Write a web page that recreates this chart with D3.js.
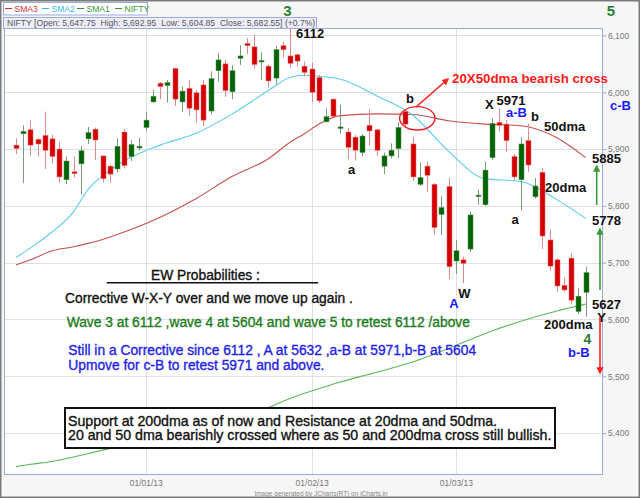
<!DOCTYPE html>
<html>
<head>
<meta charset="utf-8">
<script src="https://cdn.jsdelivr.net/npm/d3@7"></script>
<style>
  body { margin: 0; background: #fff; }
  svg { display: block; font-family: "Liberation Sans", Arial, sans-serif; }
</style>
</head>
<body>
<svg id="chart" width="640" height="498"></svg>
<script>
// NIFTY daily candles, 05 Dec 2012 - 28 Mar 2013
const dates = [
  "2012-12-05","2012-12-06","2012-12-07","2012-12-10","2012-12-11","2012-12-12","2012-12-13","2012-12-14",
  "2012-12-17","2012-12-18","2012-12-19","2012-12-20","2012-12-21","2012-12-24","2012-12-26","2012-12-27",
  "2012-12-28","2012-12-31","2013-01-01","2013-01-02","2013-01-03","2013-01-04","2013-01-07","2013-01-08",
  "2013-01-09","2013-01-10","2013-01-11","2013-01-14","2013-01-15","2013-01-16","2013-01-17","2013-01-18",
  "2013-01-21","2013-01-22","2013-01-23","2013-01-24","2013-01-25","2013-01-28","2013-01-29","2013-01-30",
  "2013-01-31","2013-02-01","2013-02-04","2013-02-05","2013-02-06","2013-02-07","2013-02-08","2013-02-11",
  "2013-02-12","2013-02-13","2013-02-14","2013-02-15","2013-02-18","2013-02-19","2013-02-20","2013-02-21",
  "2013-02-22","2013-02-25","2013-02-26","2013-02-27","2013-02-28","2013-03-01","2013-03-04","2013-03-05",
  "2013-03-06","2013-03-07","2013-03-08","2013-03-11","2013-03-12","2013-03-13","2013-03-14","2013-03-15",
  "2013-03-18","2013-03-19","2013-03-20","2013-03-21","2013-03-22","2013-03-25","2013-03-26","2013-03-28"
];
const openVals = [
  5907,5927,5934,5917,5924,5918,5900,5846,5860,5874,5918,5935,5888,5870,5865,5930,
  5887,5902,5938,5983,6016,6012,6042,5983,6007,5999,6013,5967,6038,6050,6001,6060,
  6086,6080,6054,6046,6025,6082,6064,6066,6046,6041,6026,5948,5988,5937,5930,5921,
  5894,5942,5934,5870,5888,5901,5966,5909,5838,5870,5838,5785,5834,5703,5705,5724,
  5817,5802,5885,5947,5944,5887,5846,5915,5816,5859,5740,5705,5660,5708,5614,5647.75
];
const highVals = [
  5919,5942,5951,5920,5966,5925,5913,5887,5887,5905,5939,5938,5888,5872,5919,5935,
  5916,5920,5966,6005,6018,6022,6043,6010,6022,6004,6022,6037,6069,6057,6048,6083,
  6095,6102,6070,6049,6082,6089,6112,6069,6054,6052,6031,5972,5989,5978,5937,5925,
  5927,5970,5935,5894,5910,5947,5970,5921,5876,5878,5840,5817,5850,5740,5711,5790,
  5829,5878,5954,5971,5951,5891,5921,5945,5849,5866,5758,5708,5674,5717,5656,5692.95
];
const lowVals = [
  5891,5840,5888,5887,5865,5875,5841,5838,5850,5820,5909,5881,5841,5841,5859,5866,
  5879,5898,5932,5982,5988,5982,5976,5965,5959,5947,5941,5961,6019,5992,5988,6048,
  6067,6042,6022,6008,6014,6061,6043,6045,6028,5983,5981,5947,5956,5927,5882,5880,
  5887,5906,5888,5856,5884,5884,5938,5844,5835,5825,5749,5749,5671,5680,5664,5719,
  5802,5800,5881,5931,5895,5844,5792,5860,5813,5724,5686,5649,5648,5626,5610,5604.85
];
const closeVals = [
  5901,5931,5907,5909,5898,5887,5851,5879,5857,5897,5929,5916,5848,5856,5905,5871,
  5908,5905,5951,5993,6010,6017,5988,6002,5972,5969,5951,6024,6057,6003,6038,6064,
  6082,6049,6056,6020,6075,6075,6051,6055,6035,6000,5985,5957,5958,5939,5903,5898,
  5923,5932,5898,5888,5898,5938,5944,5851,5850,5854,5762,5797,5693,5721,5699,5784,
  5819,5863,5945,5942,5915,5851,5909,5872,5835,5747,5694,5659,5652,5634,5641,5682.55
];

// moving averages, read at sample sessions
const maDates = [
  "2012-12-05","2012-12-07","2012-12-12","2012-12-17","2012-12-19","2012-12-21","2012-12-27","2013-01-03",
  "2013-01-10","2013-01-17","2013-01-24","2013-01-29","2013-01-31","2013-02-04","2013-02-07","2013-02-14",
  "2013-02-21","2013-02-28","2013-03-07","2013-03-14","2013-03-21","2013-03-28"
];
const sma20 = [5709,5726,5754,5790,5829,5853,5879,5907,5928,5962,6003,6026,6030,6028,6023,5994,5960,5896,5848,5843,5811,5778];
const sma50 = [5696,5705,5721,5728,5734,5741,5754,5780,5813,5852,5883,5912,5927,5944,5959,5962,5961,5950,5944,5941,5920,5885];
const sma200 = [5341,5345,5350,5358,5364,5370,5378,5391,5406,5425,5445,5461,5470,5478,5490,5507,5525,5549,5575,5597,5615,5627];

const yTicks = [5400, 5500, 5600, 5700, 5800, 5900, 6000, 6100];
const monthTicks = ["2013-01-01", "2013-02-01", "2013-03-01"];

const width = 640, height = 498;
const plot = { left: 4, right: 603, top: 28, bottom: 475 };

const svg = d3.select("#chart");

const x = d3.scaleLinear()
  .domain([-1.66, 81.4])
  .range([plot.left, plot.right]);
const xAt = d => x(dates.indexOf(d));

const y = d3.scaleLinear()
  .domain([5326.2, 6113.2])
  .range([plot.bottom, plot.top]);

// background + frame
svg.append("rect")
  .attr("width", width).attr("height", height)
  .attr("fill", "#f6f6f6");
svg.append("rect")
  .attr("x", plot.left).attr("y", plot.top)
  .attr("width", plot.right - plot.left).attr("height", plot.bottom - plot.top)
  .attr("fill", "#fff");

// grid
svg.append("g")
  .selectAll("line")
  .data(yTicks)
  .join("line")
    .attr("x1", plot.left).attr("x2", plot.right)
    .attr("y1", d => Math.round(y(d)) + 0.5).attr("y2", d => Math.round(y(d)) + 0.5)
    .attr("stroke", "#e0e0e0");
svg.append("g")
  .selectAll("line")
  .data(monthTicks)
  .join("line")
    .attr("x1", d => Math.round(xAt(d)) + 0.5).attr("x2", d => Math.round(xAt(d)) + 0.5)
    .attr("y1", plot.top).attr("y2", plot.bottom)
    .attr("stroke", "#e0e0e0");

// axes
const fmtDate = d3.timeFormat("%d/%m/%y");
const parse = d3.timeParse("%Y-%m-%d");

const yAxis = svg.append("g")
  .attr("transform", `translate(${plot.right},0)`)
  .call(d3.axisRight(y).tickValues(yTicks).tickFormat(d3.format(",")).tickSize(3).tickPadding(2));
yAxis.select(".domain").remove();
yAxis.selectAll("line").attr("stroke", "#aaa");
yAxis.selectAll("text").attr("fill", "#777").attr("font-size", 8.5).attr("font-family", "Liberation Sans, Arial");

const xAxis = svg.append("g")
  .attr("transform", `translate(0,${plot.bottom})`)
  .call(d3.axisBottom(x)
    .tickValues(monthTicks.map(d => dates.indexOf(d)))
    .tickFormat(i => fmtDate(parse(dates[i])))
    .tickSize(0).tickPadding(5));
xAxis.select(".domain").remove();
xAxis.selectAll("text").attr("fill", "#777").attr("font-size", 8.5).attr("font-family", "Liberation Sans, Arial");

svg.append("rect")
  .attr("x", plot.left + 0.5).attr("y", plot.top + 0.5)
  .attr("width", plot.right - plot.left - 1).attr("height", plot.bottom - plot.top - 1)
  .attr("fill", "none")
  .attr("stroke", "#9aaae0");

// moving averages
const maLine = d3.line()
  .x(d => xAt(d[0]))
  .y(d => y(d[1]))
  .curve(d3.curveMonotoneX);

const maSeries = [
  { values: sma200, color: "#5cb85c" },
  { values: sma50, color: "#c85050" },
  { values: sma20, color: "#5ccbef" }
];
svg.append("g")
  .selectAll("path")
  .data(maSeries)
  .join("path")
    .attr("d", s => maLine(maDates.map((d, i) => [d, s.values[i]])))
    .attr("fill", "none")
    .attr("stroke", s => s.color)
    .attr("stroke-width", 1.1);

// candles
const candles = dates.map((d, i) => ({
  date: d, open: openVals[i], high: highVals[i], low: lowVals[i], close: closeVals[i]
}));

const candleG = svg.append("g");
candleG.selectAll("line")
  .data(candles)
  .join("line")
    .attr("x1", d => Math.round(xAt(d.date)) + 0.5)
    .attr("x2", d => Math.round(xAt(d.date)) + 0.5)
    .attr("y1", d => y(d.high))
    .attr("y2", d => y(d.low))
    .attr("stroke", d => d.close >= d.open ? "#7a9a7a" : "#e08a8a");
candleG.selectAll("rect")
  .data(candles)
  .join("rect")
    .attr("x", d => Math.round(xAt(d.date)) - 2)
    .attr("width", 5)
    .attr("y", d => y(Math.max(d.open, d.close)))
    .attr("height", d => Math.max(1.5, Math.abs(y(d.open) - y(d.close))))
    .attr("fill", d => d.close >= d.open ? "#006400" : "#d40000")
    .attr("stroke", d => d.close >= d.open ? "#5a8a5a" : "#e86a6a")
    .attr("stroke-width", 0.5);

// legend + info bar
svg.append("rect")
  .attr("x", 3.5).attr("y", 2.5).attr("width", 144).attr("height", 12.5)
  .attr("fill", "#fff").attr("stroke", "#9aaae0");
const legendItems = [
  { label: "SMA3", color: "#cc3333", x: 5 },
  { label: "SMA2", color: "#33bbee", x: 42 },
  { label: "SMA1", color: "#339933", x: 77 },
  { label: "NIFTY", color: "#339933", x: 115 }
];
const legend = svg.append("g");
legend.selectAll("line")
  .data(legendItems)
  .join("line")
    .attr("x1", d => d.x).attr("x2", d => d.x + 7)
    .attr("y1", 8.5).attr("y2", 8.5)
    .attr("stroke", d => d.color);
legend.selectAll("text")
  .data(legendItems)
  .join("text")
    .attr("x", d => d.x + 9.5)
    .attr("y", 11.8)
    .attr("font-size", 8.5)
    .attr("fill", d => d.color)
    .text(d => d.label);

const last = candles[candles.length - 1];
const prev = candles[candles.length - 2];
const f2 = d3.format(",.2f");
svg.append("rect")
  .attr("x", 3.5).attr("y", 17.5).attr("width", 313).attr("height", 11)
  .attr("fill", "#eeeefa").attr("stroke", "#9aaae0");
svg.append("text")
  .attr("x", 7).attr("y", 26)
  .attr("font-size", 8.6)
  .attr("fill", "#555")
  .attr("xml:space", "preserve")
  .text(`NIFTY [Open: ${f2(last.open)}  High: ${f2(last.high)}  Low: ${f2(last.low)}  Close: ${f2(last.close)}] (+${d3.format(".1f")((last.close / prev.close - 1) * 100)}%)`);

// annotations
const notes = [
  { t: "3", x: 287.5, y: 16, c: "#2e7d32", s: 15, a: "middle" },
  { t: "5", x: 611, y: 16, c: "#2e7d32", s: 15, a: "middle" },
  { t: "6112", x: 296, y: 38, c: "#111", s: 13 },
  { t: "20X50dma bearish cross", x: 452, y: 83, c: "#ff1a1a", s: 13.3 },
  { t: "b", x: 410, y: 103, c: "#111", s: 13, a: "middle" },
  { t: "X", x: 485, y: 108.5, c: "#111", s: 13 },
  { t: "5971", x: 496.5, y: 104.5, c: "#111", s: 13 },
  { t: "a-B", x: 506, y: 117, c: "#1a1aff", s: 13 },
  { t: "b", x: 535, y: 121, c: "#111", s: 13, a: "middle" },
  { t: "50dma", x: 544, y: 131, c: "#111", s: 13 },
  { t: "c-B", x: 610, y: 110, c: "#1a1aff", s: 13 },
  { t: "5885", x: 592, y: 163, c: "#111", s: 13 },
  { t: "a", x: 351.7, y: 174, c: "#111", s: 13, a: "middle" },
  { t: "20dma", x: 545, y: 192, c: "#111", s: 13 },
  { t: "a", x: 515, y: 224, c: "#111", s: 13, a: "middle" },
  { t: "5778", x: 592, y: 225, c: "#111", s: 13 },
  { t: "W", x: 464.3, y: 297.5, c: "#111", s: 13, a: "middle" },
  { t: "A", x: 454, y: 308, c: "#1a1aff", s: 13, a: "middle" },
  { t: "5627", x: 592, y: 308.5, c: "#111", s: 13 },
  { t: "Y", x: 601.5, y: 321.5, c: "#111", s: 13, a: "middle" },
  { t: "200dma", x: 544, y: 329, c: "#111", s: 13 },
  { t: "4", x: 587.3, y: 344, c: "#2e7d32", s: 14, a: "middle" },
  { t: "b-B", x: 568, y: 356.5, c: "#1a1aff", s: 13 }
];
svg.append("g")
  .selectAll("text")
  .data(notes)
  .join("text")
    .attr("x", d => d.x)
    .attr("y", d => d.y)
    .attr("text-anchor", d => d.a || "start")
    .attr("font-size", d => d.s)
    .attr("font-weight", "bold")
    .attr("fill", d => d.c)
    .text(d => d.t);

// arrows
const defs = svg.append("defs");
[["head-green", "#3a9a3a"], ["head-red", "#ff2020"]].forEach(([id, col]) => {
  defs.append("marker")
    .attr("id", id)
    .attr("viewBox", "0 0 10 10")
    .attr("refX", 8).attr("refY", 5)
    .attr("markerWidth", 4.5).attr("markerHeight", 4.5)
    .attr("orient", "auto")
    .append("path")
      .attr("d", "M0,0 L10,5 L0,10 z")
      .attr("fill", col);
});
const arrows = [
  { x1: 596.7, y1: 205, x2: 596.7, y2: 166, m: "head-green", c: "#3a9a3a" },
  { x1: 600, y1: 290, x2: 600, y2: 229, m: "head-green", c: "#3a9a3a" },
  { x1: 600, y1: 317, x2: 600, y2: 373, m: "head-red", c: "#ff2020" },
  { x1: 416, y1: 107, x2: 448, y2: 79, m: "head-red", c: "#ff2020" }
];
svg.append("g")
  .selectAll("line")
  .data(arrows)
  .join("line")
    .attr("x1", d => d.x1).attr("y1", d => d.y1)
    .attr("x2", d => d.x2).attr("y2", d => d.y2)
    .attr("stroke", d => d.c)
    .attr("stroke-width", 1.6)
    .attr("marker-end", d => `url(#${d.m})`);

svg.append("ellipse")
  .attr("cx", 417.3).attr("cy", 118.3)
  .attr("rx", 17.7).attr("ry", 11.7)
  .attr("fill", "none")
  .attr("stroke", "#ee2020")
  .attr("stroke-width", 1.4);

// commentary
const lines = [
  { t: "EW Probabilities :", x: 151, y: 280, c: "#111" },
  { t: "Corrective W-X-Y over and we move up again .", x: 65, y: 302.5, c: "#111" },
  { t: "Wave 3 at 6112 ,wave 4 at 5604 and wave 5 to retest 6112 /above", x: 66.7, y: 326.5, c: "#1c7c1c" },
  { t: "Still in a Corrective since 6112 , A at 5632 ,a-B at 5971,b-B at 5604", x: 68.3, y: 355, c: "#1f1fe6" },
  { t: "Upmove for c-B to retest 5971 and above.", x: 68.3, y: 370, c: "#1f1fe6" }
];
svg.append("g")
  .selectAll("text")
  .data(lines)
  .join("text")
    .attr("x", d => d.x)
    .attr("y", d => d.y)
    .attr("font-size", 13.8)
    .attr("fill", d => d.c)
    .attr("stroke", d => d.c)
    .attr("stroke-width", 0.35)
    .text(d => d.t);
svg.append("line")
  .attr("x1", 106.7).attr("x2", 318.3)
  .attr("y1", 282.8).attr("y2", 282.8)
  .attr("stroke", "#111").attr("stroke-width", 1.5);

svg.append("rect")
  .attr("x", 65).attr("y", 408).attr("width", 490).attr("height", 40)
  .attr("fill", "#fff").attr("stroke", "#111").attr("stroke-width", 2);
const boxText = [
  "Support at 200dma as of now and Resistance at 20dma and 50dma.",
  "20 and 50 dma bearishly crossed where as 50 and 200dma cross still bullish."
];
svg.append("g")
  .selectAll("text")
  .data(boxText)
  .join("text")
    .attr("x", 68)
    .attr("y", (d, i) => 425.5 + i * 14)
    .attr("font-size", 14.2)
    .attr("fill", "#111")
    .attr("stroke", "#111")
    .attr("stroke-width", 0.35)
    .text(d => d);

svg.append("text")
  .attr("x", 321).attr("y", 496)
  .attr("text-anchor", "middle")
  .attr("font-size", 6.5)
  .attr("fill", "#888")
  .text("Image generated by JCharts(RT) on iCharts.in");

svg.append("rect")
  .attr("x", 0.75).attr("y", 0.75)
  .attr("width", width - 1.5).attr("height", height - 1.5)
  .attr("fill", "none")
  .attr("stroke", "#7a7a7a")
  .attr("stroke-width", 1.5);
</script>
</body>
</html>
